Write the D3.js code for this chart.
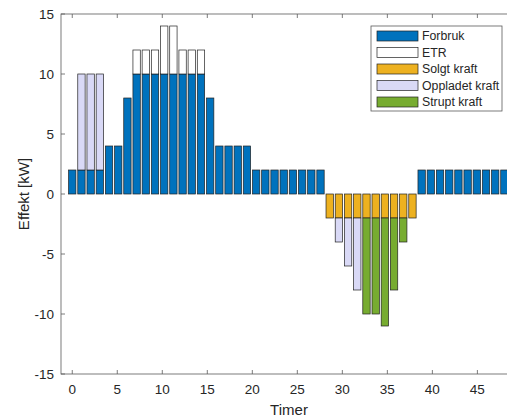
<!DOCTYPE html>
<html>
<head>
<meta charset="utf-8">
<script src="https://cdn.jsdelivr.net/npm/d3@7"></script>
<style>
  body { margin: 0; background: #fff; }
  text { font-family: "Liberation Sans", Arial, Helvetica, sans-serif; fill: #262626; }
</style>
</head>
<body>
<div id="chart"></div>
<script>
// hours (48 steps spread over 0..48)
const nBars = 48;
const forbruk = [2,2,2,2,4,4,8,10,10,10,10,10,10,10,10,8,4,4,4,4,2,2,2,2,2,2,2,2,
                 0,0,0,0,0,0,0,0,0,0,2,2,2,2,2,2,2,2,2,2];
const etr = [0,0,0,0,0,0,0,2,2,2,4,4,2,2,2,0,0,0,0,0,0,0,0,0,0,0,0,0,
             0,0,0,0,0,0,0,0,0,0,0,0,0,0,0,0,0,0,0,0];
const solgt = [0,0,0,0,0,0,0,0,0,0,0,0,0,0,0,0,0,0,0,0,0,0,0,0,0,0,0,0,
               -2,-2,-2,-2,-2,-2,-2,-2,-2,-2,0,0,0,0,0,0,0,0,0,0];
const oppladet = [0,8,8,8,0,0,0,0,0,0,0,0,0,0,0,0,0,0,0,0,0,0,0,0,0,0,0,0,
                  0,-2,-4,-6,0,0,0,0,0,0,0,0,0,0,0,0,0,0,0,0];
const strupt = [0,0,0,0,0,0,0,0,0,0,0,0,0,0,0,0,0,0,0,0,0,0,0,0,0,0,0,0,
                0,0,0,0,-8,-8,-9,-6,-2,0,0,0,0,0,0,0,0,0,0,0];
const seriesNames = ['Forbruk', 'ETR', 'Solgt kraft', 'Oppladet kraft', 'Strupt kraft'];
const seriesKeys = ['forbruk', 'etr', 'solgt', 'oppladet', 'strupt'];
const seriesColors = ['#0072BD', '#FFFFFF', '#EDB120', '#D9D9F6', '#77AC30'];
const xTicks = [0, 5, 10, 15, 20, 25, 30, 35, 40, 45];
const yTicks = [-15, -10, -5, 0, 5, 10, 15];

const width = 507, height = 417;
const margin = {left: 61, top: 14, right: -10, bottom: 43};
const innerW = width - margin.left - margin.right;
const innerH = height - margin.top - margin.bottom;

const rows = d3.range(nBars).map((i) => ({
    t: i * 48 / (nBars - 1),
    forbruk: forbruk[i], etr: etr[i], solgt: solgt[i], oppladet: oppladet[i], strupt: strupt[i]
}));

const xScale = d3.scaleLinear().domain([-1.25, 49.4]).range([0, innerW]);
const yScale = d3.scaleLinear().domain([-15, 15]).range([innerH, 0]);

const stack = d3.stack().keys(seriesKeys).offset(d3.stackOffsetDiverging);
const stacked = stack(rows);

const svg = d3.select('#chart').append('svg')
    .attr('width', width)
    .attr('height', height);
const chart = svg.append('g')
    .attr('transform', `translate(${margin.left}, ${margin.top})`);

// bars
const barW = xScale(0.8 * 48 / 47) - xScale(0);
stacked.forEach((layer, k) => {
    chart.append('g').attr('class', 'layer')
        .selectAll('rect')
        .data(layer.filter((d) => d[1] !== d[0]))
        .enter().append('rect')
        .attr('x', (d) => xScale(d.data.t) - barW / 2)
        .attr('y', (d) => yScale(Math.max(d[0], d[1])))
        .attr('width', barW)
        .attr('height', (d) => Math.abs(yScale(d[0]) - yScale(d[1])))
        .attr('fill', seriesColors[k])
        .attr('stroke', '#222')
        .attr('stroke-width', 0.7);
});

// axes box
const axisColor = '#5a5a5a';
chart.append('rect')
    .attr('x', 0).attr('y', 0)
    .attr('width', innerW).attr('height', innerH)
    .attr('fill', 'none')
    .attr('stroke', axisColor)
    .attr('stroke-width', 0.8);

const tickLen = 4;
const xAxisG = chart.append('g');
xTicks.forEach((t) => {
    const x = xScale(t);
    xAxisG.append('line').attr('x1', x).attr('x2', x).attr('y1', innerH).attr('y2', innerH - tickLen)
        .attr('stroke', axisColor).attr('stroke-width', 0.8);
    xAxisG.append('line').attr('x1', x).attr('x2', x).attr('y1', 0).attr('y2', tickLen)
        .attr('stroke', axisColor).attr('stroke-width', 0.8);
    xAxisG.append('text').attr('x', x).attr('y', innerH + 20)
        .attr('text-anchor', 'middle').attr('font-size', '13.5px').text(t);
});
const yAxisG = chart.append('g');
yTicks.forEach((t) => {
    const y = yScale(t);
    yAxisG.append('line').attr('x1', 0).attr('x2', tickLen).attr('y1', y).attr('y2', y)
        .attr('stroke', axisColor).attr('stroke-width', 0.8);
    yAxisG.append('text').attr('x', -7).attr('y', y)
        .attr('dy', '0.35em')
        .attr('text-anchor', 'end').attr('font-size', '13.5px').text(t);
});

// axis labels
svg.append('text')
    .attr('x', margin.left + innerW / 2).attr('y', 415)
    .attr('text-anchor', 'middle').attr('font-size', '15px').text('Timer');
svg.append('text')
    .attr('transform', `translate(28.5, ${margin.top + innerH / 2}) rotate(-90)`)
    .attr('text-anchor', 'middle').attr('font-size', '15px').text('Effekt [kW]');

// legend
const legend = svg.append('g').attr('transform', 'translate(371, 26)');
legend.append('rect')
    .attr('width', 131).attr('height', 85)
    .attr('fill', '#fff').attr('stroke', axisColor).attr('stroke-width', 0.8);
seriesNames.forEach((name, k) => {
    const cy = 10 + k * 16.5;
    legend.append('rect')
        .attr('x', 6).attr('y', cy - 5)
        .attr('width', 41).attr('height', 10)
        .attr('fill', seriesColors[k])
        .attr('stroke', '#222').attr('stroke-width', 0.7);
    legend.append('text')
        .attr('x', 51).attr('y', cy)
        .attr('dy', '0.35em')
        .attr('font-size', '12.3px').text(name);
});
</script>
</body>
</html>
